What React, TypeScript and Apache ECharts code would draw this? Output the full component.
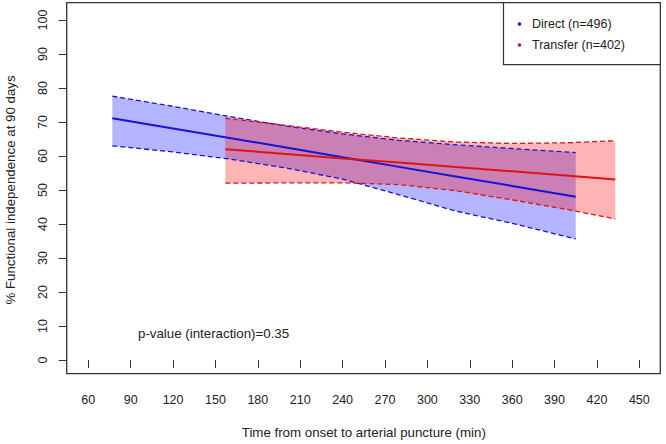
import React, { useEffect, useRef } from "react";
import * as echarts from "echarts";

// Direct (n=496): predicted % functional independence with 95% CI
const directX = [77, 120, 160, 200, 240, 280, 320, 360, 405];
const directFit = [71.1, 68.1, 65.3, 62.5, 59.6, 56.8, 54.0, 51.2, 48.0];
const directUpper = [77.6, 74.6, 71.6, 68.8, 66.5, 64.6, 63.3, 62.2, 61.0];
const directLower = [63.0, 61.2, 59.1, 56.5, 53.2, 48.6, 43.8, 40.2, 35.6];

// Transfer (n=402)
const transferX = [157, 200, 240, 280, 320, 360, 400, 433];
const transferFit = [62.0, 60.6, 59.3, 58.1, 56.8, 55.5, 54.2, 53.1];
const transferUpper = [71.1, 69.0, 67.0, 65.3, 64.1, 63.7, 63.9, 64.5];
const transferLower = [52.0, 52.1, 52.1, 51.6, 49.8, 47.1, 44.2, 41.5];

const legendLabels = ["Direct (n=496)", "Transfer (n=402)"];
const xTitle = "Time from onset to arterial puncture (min)";
const yTitle = "% Functional independence at 90 days";
const annotation = "p-value (interaction)=0.35";

const FONT = "'Liberation Sans', Arial, Helvetica, sans-serif";
const BLUE = "#1414d2";
const RED = "#dc1414";

function bandSeries(
  xs: number[],
  fit: number[],
  lo: number[],
  hi: number[],
  lineColor: string,
  fill: string,
  name: string
) {
  const dashed = { color: lineColor, width: 1.3, type: [5, 3] as any };
  return [
    {
      type: "custom",
      name: name + " CI",
      data: xs.map((x, i) => [x, lo[i], hi[i]]),
      encode: { x: 0, y: [1, 2] },
      silent: true,
      clip: true,
      renderItem: (params: any, api: any) => {
        if (params.dataIndex !== 0) return { type: "group", children: [] };
        const top = xs.map((x, i) => api.coord([x, hi[i]]));
        const bottom = xs.map((x, i) => api.coord([x, lo[i]])).reverse();
        return {
          type: "polygon",
          shape: { points: top.concat(bottom) },
          style: { fill, stroke: "none" },
        };
      },
    },
    {
      type: "line",
      name: name + " lower",
      data: xs.map((x, i) => [x, lo[i]]),
      symbol: "none",
      lineStyle: dashed,
      silent: true,
    },
    {
      type: "line",
      name: name + " upper",
      data: xs.map((x, i) => [x, hi[i]]),
      symbol: "none",
      lineStyle: dashed,
      silent: true,
    },
    {
      type: "line",
      name,
      data: xs.map((x, i) => [x, fit[i]]),
      symbol: "none",
      lineStyle: { color: lineColor, width: 2 },
      itemStyle: { color: lineColor },
      silent: true,
    },
  ];
}

export default function App() {
  const ref = useRef<HTMLDivElement>(null);
  useEffect(() => {
    if (!ref.current) return;
    const chart = echarts.init(ref.current, null, { renderer: "svg" });
    const axisCol = "#333";
    chart.setOption({
      animation: false,
      backgroundColor: "#ffffff",
      textStyle: { fontFamily: FONT },
      grid: {
        left: 88.3,
        top: 20,
        width: 551,
        height: 340,
        containLabel: false,
        outerBoundsMode: "none",
      },
      xAxis: {
        type: "value",
        min: 60,
        max: 450,
        interval: 30,
        offset: 14,
        splitLine: { show: false },
        axisLine: { show: false },
        axisTick: { show: true, length: 8, lineStyle: { color: axisCol, width: 1 } },
        axisLabel: { color: "#222", fontSize: 12.5, fontFamily: FONT, margin: 19 },
        name: xTitle,
        nameLocation: "middle",
        nameGap: 52,
        nameTextStyle: { color: "#222", fontSize: 13.3, fontFamily: FONT },
      },
      yAxis: {
        type: "value",
        min: 0,
        max: 100,
        interval: 10,
        offset: 21.6,
        splitLine: { show: false },
        axisLine: { show: false },
        axisTick: { show: true, length: 8, lineStyle: { color: axisCol, width: 1 } },
        axisLabel: {
          color: "#222",
          fontSize: 12.5,
          fontFamily: FONT,
          rotate: 90,
          margin: 17,
        },
        name: yTitle,
        nameLocation: "middle",
        nameGap: 50,
        nameTextStyle: { color: "#222", fontSize: 13.3, fontFamily: FONT },
      },
      series: [
        ...bandSeries(directX, directFit, directLower, directUpper, BLUE, "rgba(0,0,255,0.29)", legendLabels[0]),
        ...bandSeries(transferX, transferFit, transferLower, transferUpper, RED, "rgba(255,0,0,0.29)", legendLabels[1]),
      ],
      graphic: [
        {
          type: "rect",
          shape: { x: 66.7, y: 2.7, width: 593.6, height: 371 },
          style: { fill: "none", stroke: axisCol, lineWidth: 1.3 },
          z: 100,
          silent: true,
        },
        {
          type: "rect",
          shape: { x: 503.5, y: 2.7, width: 156.8, height: 62 },
          style: { fill: "#fff", stroke: axisCol, lineWidth: 1.2 },
          z: 101,
          silent: true,
        },
        {
          type: "circle",
          shape: { cx: 519.5, cy: 24, r: 1.8 },
          style: { fill: BLUE },
          z: 102,
        },
        {
          type: "text",
          x: 532,
          y: 24,
          style: { text: legendLabels[0], fill: "#222", font: `12.5px ${FONT}`, verticalAlign: "middle" },
          z: 102,
        },
        {
          type: "circle",
          shape: { cx: 519.5, cy: 45, r: 1.8 },
          style: { fill: RED },
          z: 102,
        },
        {
          type: "text",
          x: 532,
          y: 45,
          style: { text: legendLabels[1], fill: "#222", font: `12.5px ${FONT}`, verticalAlign: "middle" },
          z: 102,
        },
        {
          type: "text",
          x: 138,
          y: 333,
          style: { text: annotation, fill: "#222", font: `13.3px ${FONT}`, verticalAlign: "middle" },
          z: 102,
        },
      ],
    });
    return () => chart.dispose();
  }, []);
  return (
    <div
      ref={ref}
      style={{ position: "fixed", left: 0, top: 0, width: 666, height: 444, background: "#fff" }}
    />
  );
}
